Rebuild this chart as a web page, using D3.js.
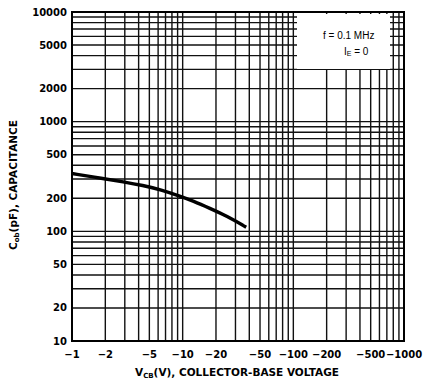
<!DOCTYPE html>
<html><head><meta charset="utf-8">
<script src="https://cdn.jsdelivr.net/npm/d3@7"></script>
<style>body{margin:0;background:#fff}svg{display:block}</style>
</head><body>
<svg id="c" width="427" height="383"></svg>
<script>
const voltage = [1, 1.9, 2.9, 4.4, 6.2, 9.5, 12.4, 17.6, 25, 37.5];
const capacitance = [337, 303, 283, 262, 241, 209, 189, 162, 138, 109];
const xTickValues = [1, 2, 5, 10, 20, 50, 100, 200, 500, 1000];
const xTickLabels = ["−1", "−2", "−5", "−10", "−20", "−50", "−100", "−200", "−500", "−1000"];
const yTickValues = [10, 20, 50, 100, 200, 500, 1000, 2000, 5000, 10000];
const yTickLabels = ["10", "20", "50", "100", "200", "500", "1000", "2000", "5000", "10000"];

const svg = d3.select("#c");
const x = d3.scaleLog().domain([1, 1000]).range([72, 404]);
const y = d3.scaleLog().domain([10, 10000]).range([341, 12]);
const font = "'DejaVu Sans', sans-serif";

function gridVals(lo, hi) {
  const out = [];
  for (let k = lo; k < hi; k *= 10) for (let d = 1; d <= 9; d++) out.push(d * k);
  out.push(hi);
  return out;
}
const g = svg.append("g");
g.selectAll("line.v").data(gridVals(1, 1000)).join("line")
  .attr("x1", d => x(d)).attr("x2", d => x(d))
  .attr("y1", y(10)).attr("y2", y(10000))
  .attr("stroke", "#111").attr("stroke-width", 1.4);
g.selectAll("line.h").data(gridVals(10, 10000)).join("line")
  .attr("y1", d => y(d)).attr("y2", d => y(d))
  .attr("x1", x(1)).attr("x2", x(1000))
  .attr("stroke", "#111").attr("stroke-width", 1.4);

// annotation box
svg.append("rect").attr("x", 297).attr("y", 14).attr("width", 93).attr("height", 55).attr("fill", "#fff");
svg.append("text").attr("x", 323).attr("y", 39).attr("font-family", "'Liberation Sans', sans-serif")
  .attr("font-size", 10).text("f = 0.1 MHz");
const t2 = svg.append("text").attr("x", 344).attr("y", 55).attr("font-family", "'Liberation Sans', sans-serif")
  .attr("font-size", 10);
t2.append("tspan").text("I");
t2.append("tspan").attr("font-size", 7).attr("dy", 1).text("E");
t2.append("tspan").attr("dy", -1).text(" = 0");

svg.append("rect").attr("x", x(1)).attr("y", y(10000)).attr("width", x(1000) - x(1))
  .attr("height", y(10) - y(10000)).attr("fill", "none").attr("stroke", "#000").attr("stroke-width", 2);

const line = d3.line().x(d => x(d[0])).y(d => y(d[1])).curve(d3.curveBasis);
svg.append("path").datum(voltage.map((v, i) => [v, capacitance[i]]))
  .attr("d", line).attr("fill", "none").attr("stroke", "#000").attr("stroke-width", 3.4);

svg.selectAll("text.xt").data(xTickValues).join("text")
  .attr("x", d => x(d)).attr("y", 358).attr("text-anchor", "middle")
  .attr("font-family", font).attr("font-weight", "bold").attr("font-size", 10)
  .text((d, i) => xTickLabels[i]);
svg.selectAll("text.yt").data(yTickValues).join("text")
  .attr("x", 67).attr("y", d => y(d) + 3.5).attr("text-anchor", "end")
  .attr("font-family", font).attr("font-weight", "bold").attr("font-size", 10)
  .text((d, i) => yTickLabels[i]);

const xt = svg.append("text").attr("x", 237).attr("y", 376).attr("text-anchor", "middle")
  .attr("font-family", font).attr("font-weight", "bold").attr("font-size", 10.5);
xt.append("tspan").text("V");
xt.append("tspan").attr("font-size", 7).attr("dy", 1.5).text("CB");
xt.append("tspan").attr("dy", -1.5).text("(V), COLLECTOR-BASE VOLTAGE");

const yt = svg.append("text").attr("transform", "translate(17,185) rotate(-90)").attr("text-anchor", "middle")
  .attr("font-family", font).attr("font-weight", "bold").attr("font-size", 10.5);
yt.append("tspan").text("C");
yt.append("tspan").attr("font-size", 7).attr("dy", 1.5).text("ob");
yt.append("tspan").attr("dy", -1.5).text("(pF), CAPACITANCE");
</script>
</body></html>
